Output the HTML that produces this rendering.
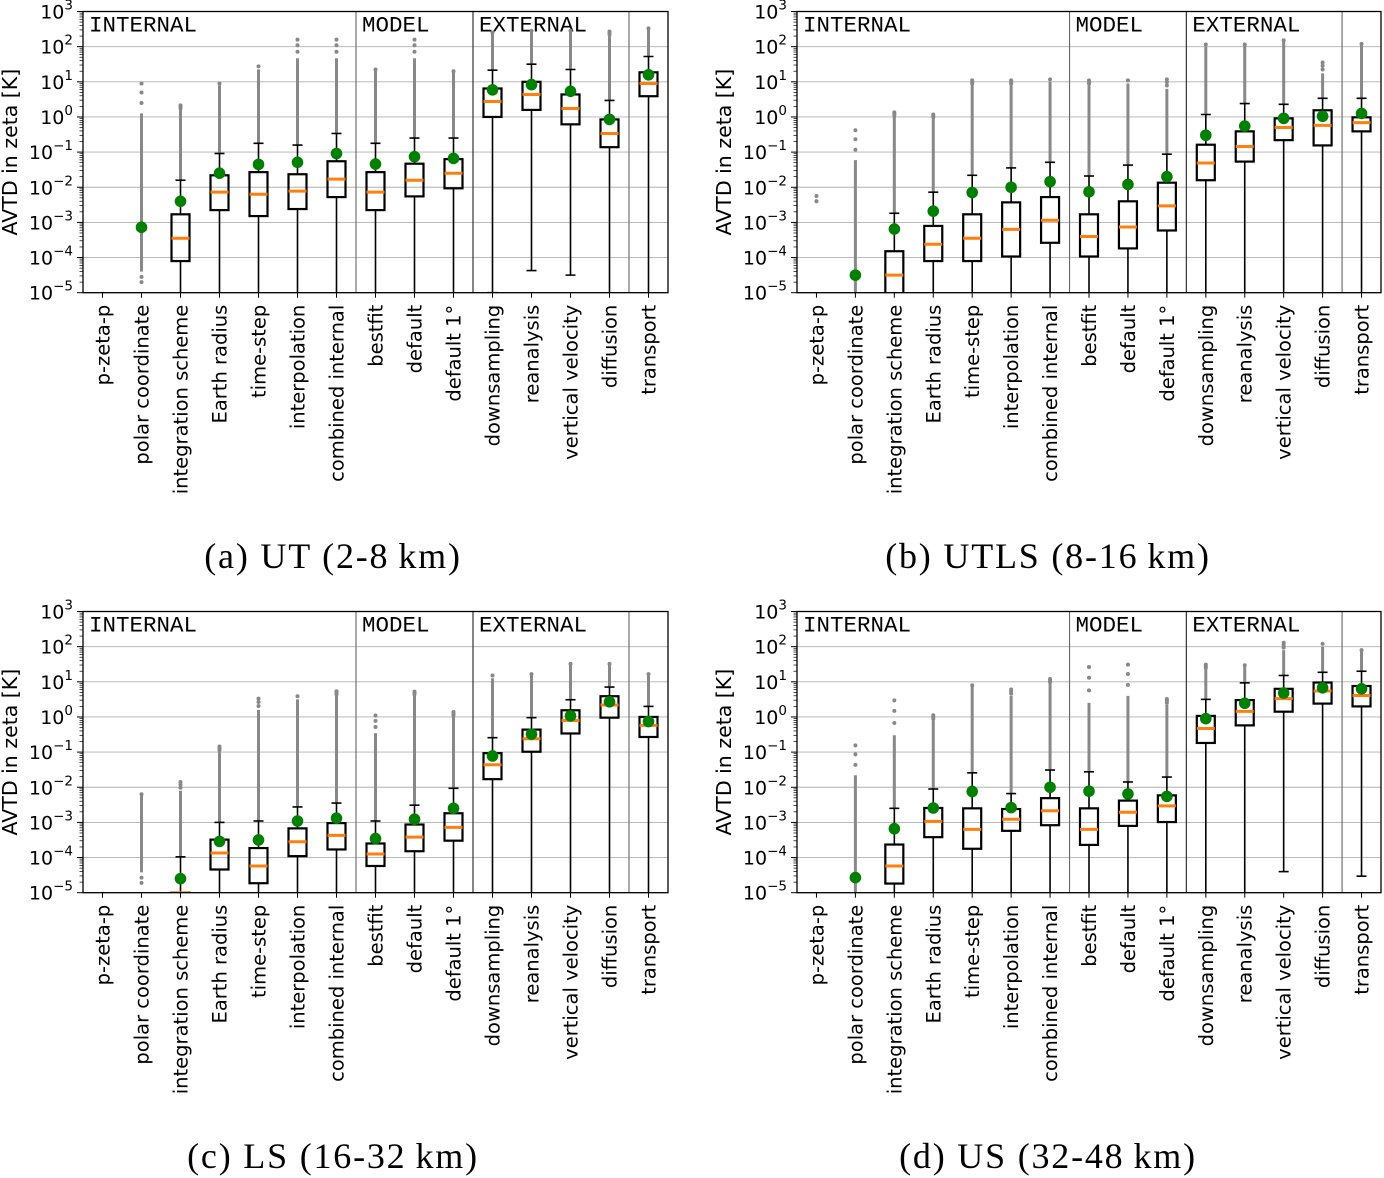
<!DOCTYPE html>
<html><head><meta charset="utf-8">
<style>
html,body{margin:0;padding:0;background:#fff;}
svg{display:block;font-family:"DejaVu Sans","Liberation Sans",sans-serif;}
</style></head>
<body>
<svg id="fig" width="1384" height="1178" viewBox="0 0 1384 1178" xmlns="http://www.w3.org/2000/svg"></svg>
<script>
const categories = ["p-zeta-p","polar coordinate","integration scheme","Earth radius","time-step","interpolation","combined internal","bestfit","default","default 1°","downsampling","reanalysis","vertical velocity","diffusion","transport"];
const groupLabels = ["INTERNAL","MODEL","EXTERNAL"];
const groupStarts = [0,7,10,14];
const captions = ["(a)  UT (2-8\u2009km)","(b)  UTLS (8-16\u2009km)","(c)  LS (16-32\u2009km)","(d)  US (32-48\u2009km)"];
const yTickExps = [3,2,1,0,-1,-2,-3,-4,-5];
// values are log10 of AVTD [K]
const q1A   = [null,null,-4.1,-2.65,-2.82,-2.62,-2.28,-2.65,-2.26,-2.03,0.0,0.2,-0.21,-0.86,0.59];
const medA  = [null,null,-3.45,-2.14,-2.2,-2.11,-1.77,-2.14,-1.8,-1.6,0.44,0.64,0.24,-0.47,0.95];
const q3A   = [null,null,-2.77,-1.66,-1.57,-1.63,-1.26,-1.57,-1.33,-1.2,0.81,1.0,0.64,-0.07,1.27];
const wloA  = [null,null,-6,-6,-6,-6,-6,-6,-6,-6,-5,-4.37,-4.5,-6,-6];
const whiA  = [null,null,-1.8,-1.04,-0.75,-0.8,-0.47,-0.75,-0.6,-0.6,1.33,1.5,1.35,0.47,1.72];
const meanA = [null,-3.14,-2.4,-1.6,-1.35,-1.29,-1.04,-1.34,-1.13,-1.18,0.77,0.92,0.73,-0.07,1.2];
const fDenseA=[null,0.1,0.2,0.9,1.35,1.67,1.67,1.35,1.67,1.3,2.4,2.45,2.45,2.3,2.52];
const fHighA= [null,0.95,0.33,0.95,1.44,2.2,2.2,1.35,2.2,1.3,2.4,2.45,2.45,2.43,2.52];
const fLowA = [null,-4.7,null,null,null,null,null,null,null,null,null,null,null,null,null];

const q1B   = [null,null,-6,-4.1,-4.1,-3.97,-3.58,-3.97,-3.74,-3.23,-1.8,-1.27,-0.66,-0.81,-0.41];
const medB  = [null,null,-4.5,-3.62,-3.45,-3.2,-2.94,-3.4,-3.13,-2.53,-1.31,-0.84,-0.3,-0.24,-0.16];
const q3B   = [null,null,-3.82,-3.1,-2.77,-2.43,-2.28,-2.77,-2.4,-1.87,-0.79,-0.41,-0.04,0.19,-0.01];
const wloB  = [null,null,-6,-6,-6,-6,-6,-6,-6,-6,-6,-6,-6,-6,-6];
const whiB  = [null,null,-2.74,-2.14,-1.66,-1.45,-1.29,-1.68,-1.37,-1.06,0.07,0.38,0.36,0.53,0.53];
const meanB = [null,-4.5,-3.19,-2.68,-2.15,-2.0,-1.84,-2.13,-1.92,-1.7,-0.52,-0.26,-0.04,0.02,0.1];
const fDenseB=[null,-1.23,0.0,-0.05,0.9,0.9,1.0,0.9,0.95,0.8,2.0,2.06,2.18,1.24,2.08];
const fHighB= [-2.4,-0.38,0.13,0.07,1.04,1.04,1.07,1.04,1.04,1.07,2.06,2.06,2.18,1.55,2.08];
const fLowB = [-2.4,-6,null,null,null,null,null,null,null,null,null,null,null,null,null];

const q1C   = [null,null,-6,-4.34,-4.73,-3.96,-3.77,-4.24,-3.82,-3.52,-1.77,-0.99,-0.47,-0.02,-0.57];
const medC  = [null,null,-5,-3.87,-4.24,-3.55,-3.37,-3.9,-3.42,-3.14,-1.36,-0.62,-0.1,0.34,-0.24];
const q3C   = [null,null,-5,-3.49,-3.73,-3.17,-3.02,-3.6,-3.06,-2.74,-1.03,-0.36,0.19,0.59,0.0];
const wloC  = [null,null,-6,-6,-6,-6,-6,-6,-6,-6,-6,-6,-6,-6,-6];
const whiC  = [null,null,-3.98,-3.0,-2.96,-2.56,-2.45,-2.96,-2.51,-2.03,-0.59,-0.02,0.49,0.85,0.3];
const meanC = [null,null,-4.6,-3.54,-3.5,-2.96,-2.88,-3.46,-2.91,-2.6,-1.11,-0.49,0.03,0.43,-0.13];
const fDenseC=[null,-2.2,-2.1,-1.0,0.2,0.5,0.6,-0.46,0.6,0.0,1.1,1.22,1.51,1.51,1.22];
const fHighC= [null,-2.2,-1.85,-0.84,0.52,0.59,0.73,0.04,0.72,0.14,1.18,1.22,1.51,1.51,1.22];
const fLowC = [null,-4.72,null,null,null,null,null,null,null,null,null,null,null,null,null];

const q1D   = [null,null,-4.74,-3.42,-3.75,-3.24,-3.08,-3.64,-3.1,-2.99,-0.74,-0.24,0.15,0.38,0.3];
const medD  = [null,null,-4.24,-2.97,-3.2,-2.91,-2.67,-3.2,-2.71,-2.53,-0.33,0.16,0.52,0.74,0.61];
const q3D   = [null,null,-3.63,-2.59,-2.6,-2.62,-2.31,-2.6,-2.38,-2.23,0.03,0.48,0.8,0.98,0.88];
const wloD  = [null,null,-6,-6,-6,-6,-6,-6,-6,-6,-6,-6,-4.4,-6,-4.53];
const whiD  = [null,null,-2.6,-2.05,-1.59,-2.18,-1.51,-1.56,-1.85,-1.71,0.5,0.97,1.18,1.27,1.3];
const meanD = [null,-4.57,-3.18,-2.59,-2.12,-2.58,-2.0,-2.11,-2.19,-2.26,-0.05,0.39,0.68,0.83,0.8];
const fDenseD=[null,-1.66,-0.52,-0.1,0.9,0.6,0.95,0.4,0.6,0.35,1.35,1.47,1.9,2.0,1.9];
const fHighD= [null,-0.81,0.47,0.05,0.9,0.78,1.08,1.42,1.49,0.51,1.49,1.47,2.11,2.08,1.9];
const fLowD = [null,-6,null,null,null,null,null,null,null,null,null,null,null,null,null];

const NS="http://www.w3.org/2000/svg";
const svg=document.getElementById('fig');
function mk(tag,attrs,parent){const e=document.createElementNS(NS,tag);for(const k in attrs)e.setAttribute(k,attrs[k]);(parent||svg).appendChild(e);return e;}

const panels=[
 {x0:83,x1:668,y0:11.5,cap:[333,568],q1:q1A,med:medA,q3:q3A,wlo:wloA,whi:whiA,mean:meanA,fd:fDenseA,fh:fHighA,fl:fLowA,key:'a'},
 {x0:797,x1:1381,y0:11.5,cap:[1048,568],q1:q1B,med:medB,q3:q3B,wlo:wloB,whi:whiB,mean:meanB,fd:fDenseB,fh:fHighB,fl:fLowB,key:'b'},
 {x0:83,x1:668,y0:611.5,cap:[333,1168],q1:q1C,med:medC,q3:q3C,wlo:wloC,whi:whiC,mean:meanC,fd:fDenseC,fh:fHighC,fl:fLowC,key:'c'},
 {x0:797,x1:1381,y0:611.5,cap:[1048,1168],q1:q1D,med:medD,q3:q3D,wlo:wloD,whi:whiD,mean:meanD,fd:fDenseD,fh:fHighD,fl:fLowD,key:'d'}
];
const DEC=35.15;

panels.forEach((P,pi)=>{
  const n=categories.length, step=(P.x1-P.x0)/n, bottom=P.y0+8*DEC;
  const yS=v=>P.y0+(3-v)*DEC;
  const xS=i=>P.x0+step*(i+0.5);
  const g=mk('g',{});
  
  
  const cp=mk('clipPath',{id:'clip'+pi},g);
  mk('rect',{x:P.x0,y:P.y0,width:P.x1-P.x0,height:bottom-P.y0},cp);
  yTickExps.forEach(e=>{
    const gl=mk('line',{x1:P.x0,x2:P.x1,y1:yS(e),y2:yS(e),stroke:'#b0b0b0','stroke-width':0.9},g);
    
    
  });
  groupStarts.slice(1).forEach((s,k)=>{
    const x=P.x0+step*s;
    const sl=mk('line',{x1:x,x2:x,y1:P.y0,y2:bottom,stroke:k==1?'#222':'#666','stroke-width':1.1},g);
    
    
  });
  groupLabels.forEach((t,k)=>{
    const tx=mk('text',{x:P.x0+step*groupStarts[k]+6,y:P.y0+20,'font-family':'"Liberation Mono",monospace','font-size':22.5,fill:'#000'},g);
    tx.textContent=t;
    
    
  });
  const pg=mk('g',{'clip-path':'url(#clip'+pi+')'},g);
  const bw=18;
  for(let i=0;i<n;i++){
    const cx=xS(i);
    const hi=P.fh[i], dense=P.fd[i], lo=P.fl[i];
    if(hi!==null){
      const startD = lo!==null ? Math.min(lo+0.3, -4.3) : P.whi[i];
      if(dense!==null && startD!==null && dense>startD){
        const fl=mk('line',{x1:cx,x2:cx,y1:yS(startD),y2:yS(dense),stroke:'#888','stroke-width':3},pg);
        
        
      }
      const dots=[hi];
      if(dense!==null && hi-dense>0.1){dots.push(dense+(hi-dense)*0.35, dense+(hi-dense)*0.7);}
      if(lo!==null){dots.push(lo); if(lo> -5.2) dots.push(lo+0.15);}
      dots.forEach(v=>{
        const d=mk('circle',{cx:cx,cy:yS(v),r:2,fill:'#888'},pg);
        
        
      });
    }
    if(P.med[i]!==null){
      const wl=mk('line',{x1:cx,x2:cx,y1:yS(P.wlo[i]),y2:yS(P.q1[i]),stroke:'#000','stroke-width':1.6},pg);
      
      
      const wh=mk('line',{x1:cx,x2:cx,y1:yS(P.q3[i]),y2:yS(P.whi[i]),stroke:'#000','stroke-width':1.6},pg);
      
      
      const ch=mk('line',{x1:cx-5,x2:cx+5,y1:yS(P.whi[i]),y2:yS(P.whi[i]),stroke:'#000','stroke-width':1.6},pg);
      
      
      const cl=mk('line',{x1:cx-5,x2:cx+5,y1:yS(P.wlo[i]),y2:yS(P.wlo[i]),stroke:'#000','stroke-width':1.6},pg);
      
      
      const bx=mk('rect',{x:cx-bw/2,y:yS(P.q3[i]),width:bw,height:yS(P.q1[i])-yS(P.q3[i]),fill:'none',stroke:'#000','stroke-width':2.2},pg);
      
      
      const md=mk('line',{x1:cx-bw/2,x2:cx+bw/2,y1:yS(P.med[i]),y2:yS(P.med[i]),stroke:'#ff7f0e','stroke-width':3},pg);
      
      
    }
    if(P.mean[i]!==null){
      const mm=mk('circle',{cx:cx,cy:yS(P.mean[i]),r:5.8,fill:'#008000'},pg);
      
      
    }
    mk('line',{x1:cx,x2:cx,y1:bottom,y2:bottom+5,stroke:'#000','stroke-width':1},g);
    const lb=mk('text',{transform:`translate(${cx+7},${bottom+12}) rotate(-90)`,'text-anchor':'end','font-size':19.5,fill:'#000'},g);
    lb.textContent=categories[i];
    
    
  }
  const fr=mk('rect',{x:P.x0,y:P.y0,width:P.x1-P.x0,height:bottom-P.y0,fill:'none',stroke:'#000','stroke-width':1.3},g);
  
  
  yTickExps.forEach(e=>{
    const y=yS(e);
    mk('line',{x1:P.x0-6,x2:P.x0,y1:y,y2:y,stroke:'#000','stroke-width':1},g);
    if(e>-5){for(let m=2;m<10;m++){const ym=yS(e-1+Math.log10(m));mk('line',{x1:P.x0-3.5,x2:P.x0,y1:ym,y2:ym,stroke:'#000','stroke-width':0.7},g);}}
    const t=mk('text',{x:P.x0-10,y:y+7,'text-anchor':'end','font-size':19,fill:'#000'},g);
    
    
    t.appendChild(document.createTextNode('10'));
    const sp=mk('tspan',{dy:-9,'font-size':13.5},t);
    sp.textContent=(e<0?'\u2212':'')+Math.abs(e);
  });
  const yl=mk('text',{transform:`translate(${P.x0-66},${(P.y0+bottom)/2}) rotate(-90)`,'text-anchor':'middle','font-size':20.5,fill:'#000'},g);
  yl.textContent='AVTD in zeta [K]';
  
  
  const cap=mk('text',{x:P.cap[0],y:P.cap[1],'text-anchor':'middle','font-family':'"Liberation Serif",serif','font-size':36,'letter-spacing':1.8,fill:'#000'},g);
  cap.textContent=captions[pi];
  
  
});
</script>
</body></html>
